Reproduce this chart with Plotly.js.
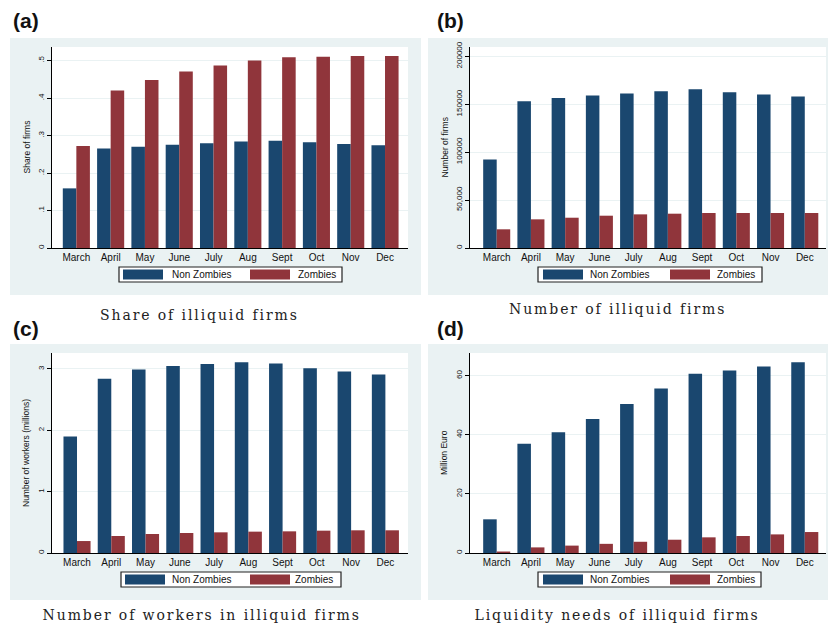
<!DOCTYPE html>
<html><head><meta charset="utf-8">
<script src="https://cdn.plot.ly/plotly-3.0.1.min.js"></script>
<style>html,body{margin:0;padding:0;background:#fff;} #chart{width:828px;height:630px;}</style>
</head><body><div id="chart"></div>
<script>
// ---------- data ----------
const months = ["March","April","May","June","July","Aug","Sept","Oct","Nov","Dec"];
const seriesNames = ["Non Zombies","Zombies"];

const shareNonZombies = [0.159,0.265,0.270,0.275,0.279,0.284,0.286,0.282,0.277,0.274];
const shareZombies    = [0.272,0.420,0.448,0.471,0.487,0.500,0.509,0.510,0.512,0.512];

const firmsNonZombies = [92400,153100,156600,159000,161100,163500,165600,162500,160100,158000];
const firmsZombies    = [19500,29900,31600,33700,35100,35800,36500,36500,36500,36500];

const workersNonZombies = [1.90,2.84,2.99,3.05,3.08,3.11,3.09,3.01,2.96,2.91];
const workersZombies    = [0.195,0.277,0.310,0.326,0.337,0.348,0.353,0.364,0.370,0.370];

const liquidityNonZombies = [11.4,37.0,40.9,45.4,50.4,55.7,60.7,61.8,63.1,64.6];
const liquidityZombies    = [0.5,1.9,2.5,3.1,3.8,4.5,5.3,5.75,6.3,7.1];

const shareTicks = [0,0.1,0.2,0.3,0.4,0.5];
const shareTickText = ["0",".1",".2",".3",".4",".5"];
const firmsTicks = [0,50000,100000,150000,200000];
const firmsTickText = ["0","50,000","100000","150000","200000"];
const workersTicks = [0,1,2,3];
const workersTickText = ["0","1","2","3"];
const liquidityTicks = [0,20,40,60];
const liquidityTickText = ["0","20","40","60"];

const panelLabels = ["(a)","(b)","(c)","(d)"];
const captions = ["Share of illiquid firms","Number of illiquid firms","Number of workers in illiquid firms","Liquidity needs of illiquid firms"];
const yTitles = ["Share of firms","Number of firms","Number of workers (millions)","Million Euro"];

// ---------- layout geometry (pixels) ----------
const W = 828, H = 630;
const fx = x => x / W, fy = y => 1 - y / H;
const BLUE = "#1a476f", RED = "#90353b", PANEL = "#eaf2f3";

const panels = [
  {nz: shareNonZombies, z: shareZombies, ticks: shareTicks, tt: shareTickText, yr: [0,0.536], xr: [-0.71,9.67],
   plot: [52,408,47,248], bg: [10,421,38,295], leg: {box:[119,342,267,282], sw1:123, sw2:250, t1:170, t2:296},
   label: [26,20], cap: [199,314.5], ytx: 26},
  {nz: firmsNonZombies, z: firmsZombies, ticks: firmsTicks, tt: firmsTickText, yr: [0,209700], xr: [-0.78,9.62],
   plot: [470,826,47,248], bg: [428,828,38,295], leg: {box:[538,762,267,282], sw1:543, sw2:670, t1:588, t2:715},
   label: [450,20], cap: [617,308.5], ytx: 444},
  {nz: workersNonZombies, z: workersZombies, ticks: workersTicks, tt: workersTickText, yr: [0,3.26], xr: [-0.73,9.66],
   plot: [52,408,353,553], bg: [10,421,344,600], leg: {box:[121,341,572,587], sw1:125, sw2:250, t1:170, t2:293},
   label: [26,328], cap: [201,615], ytx: 26},
  {nz: liquidityNonZombies, z: liquidityZombies, ticks: liquidityTicks, tt: liquidityTickText, yr: [0,67.7], xr: [-0.78,9.62],
   plot: [470,826,353,553], bg: [428,828,344,600], leg: {box:[538,761,572,587], sw1:543, sw2:670, t1:588, t2:715},
   label: [450,328], cap: [617,615], ytx: 444}
];

const data = [], shapes = [], annotations = [];
const layout = {
  width: W, height: H, margin: {l:0,r:0,t:0,b:0},
  paper_bgcolor: "#fff", plot_bgcolor: "rgba(0,0,0,0)",
  barmode: "group", bargap: 0.21, bargroupgap: 0, showlegend: false,
  font: {family: "Liberation Sans, Arial, sans-serif", color: "#000"},
  shapes: shapes, annotations: annotations
};

panels.forEach((p, i) => {
  const n = i + 1, xs = n === 1 ? "" : String(n);
  const xa = "x" + xs, ya = "y" + xs;
  data.push({type:"bar", x: months, y: p.nz, name: seriesNames[0], marker:{color:BLUE, line:{width:0}}, xaxis: xa, yaxis: ya, hoverinfo:"none"});
  data.push({type:"bar", x: months, y: p.z, name: seriesNames[1], marker:{color:RED, line:{width:0}}, xaxis: xa, yaxis: ya, hoverinfo:"none"});
  layout["xaxis" + xs] = {
    domain: [fx(p.plot[0]), fx(p.plot[1])], anchor: ya, type: "category", range: p.xr,
    showline: true, linecolor: "#000", linewidth: 1, showgrid: false, zeroline: false,
    ticks: "", tickfont: {size: 10, color: "#111"}, fixedrange: true
  };
  layout["yaxis" + xs] = {
    domain: [fy(p.plot[3]), fy(p.plot[2])], anchor: xa, range: p.yr,
    tickvals: p.ticks, ticktext: p.tt, tickangle: -90,
    showline: true, linecolor: "#000", linewidth: 1, showgrid: true, gridcolor: PANEL, gridwidth: 1,
    zeroline: false, ticks: "outside", ticklen: 4, tickcolor: "#000",
    tickfont: {size: 8, color: "#111"}, fixedrange: true
  };
  shapes.push({type:"rect", xref:"paper", yref:"paper", layer:"below", x0:fx(p.bg[0]), x1:fx(p.bg[1]), y0:fy(p.bg[3]), y1:fy(p.bg[2]), fillcolor:PANEL, line:{width:0}});
  shapes.push({type:"rect", xref:"paper", yref:"paper", layer:"below", x0:fx(p.plot[0]), x1:fx(p.plot[1]), y0:fy(p.plot[3]), y1:fy(p.plot[2]), fillcolor:"#fff", line:{width:0}});
  const L = p.leg, b = L.box;
  shapes.push({type:"rect", xref:"paper", yref:"paper", x0:fx(b[0]), x1:fx(b[1]), y0:fy(b[3]), y1:fy(b[2]), fillcolor:"#fff", line:{color:"#222", width:1.2}});
  shapes.push({type:"rect", xref:"paper", yref:"paper", x0:fx(L.sw1), x1:fx(L.sw1+40), y0:fy(b[3]-2.5), y1:fy(b[2]+2.5), fillcolor:BLUE, line:{width:0}});
  shapes.push({type:"rect", xref:"paper", yref:"paper", x0:fx(L.sw2), x1:fx(L.sw2+40), y0:fy(b[3]-2.5), y1:fy(b[2]+2.5), fillcolor:RED, line:{width:0}});
  const ly = fy((b[2]+b[3])/2);
  annotations.push({xref:"paper", yref:"paper", x:fx(L.t1), y:ly, xanchor:"left", yanchor:"middle", text:seriesNames[0], showarrow:false, font:{size:10, color:"#111"}});
  annotations.push({xref:"paper", yref:"paper", x:fx(L.t2), y:ly, xanchor:"left", yanchor:"middle", text:seriesNames[1], showarrow:false, font:{size:10, color:"#111"}});
  annotations.push({xref:"paper", yref:"paper", x:fx(p.ytx), y:fy((p.plot[2]+p.plot[3])/2), xanchor:"center", yanchor:"middle", text:yTitles[i], textangle:-90, showarrow:false, font:{size:8.5, color:"#111"}});
  annotations.push({xref:"paper", yref:"paper", x:fx(p.label[0]), y:fy(p.label[1]), xanchor:"center", yanchor:"middle", text:"<b>"+panelLabels[i]+"</b>", showarrow:false, font:{size:21, color:"#111", family:"Liberation Sans, Arial, sans-serif"}});
  annotations.push({xref:"paper", yref:"paper", x:fx(p.cap[0]), y:fy(p.cap[1]), xanchor:"center", yanchor:"middle", text:captions[i], showarrow:false, font:{size:14, color:"#222", family:"DejaVu Serif, serif"}});
});

Plotly.newPlot("chart", data, layout, {displayModeBar:false, staticPlot:true}).then(gd => {
  gd.querySelectorAll(".annotation-text").forEach(t => {
    if (captions.indexOf(t.textContent) >= 0) {
      t.style.letterSpacing = "1.9px";
      t.setAttribute("text-anchor", "middle");
    }
  });
});
</script></body></html>
